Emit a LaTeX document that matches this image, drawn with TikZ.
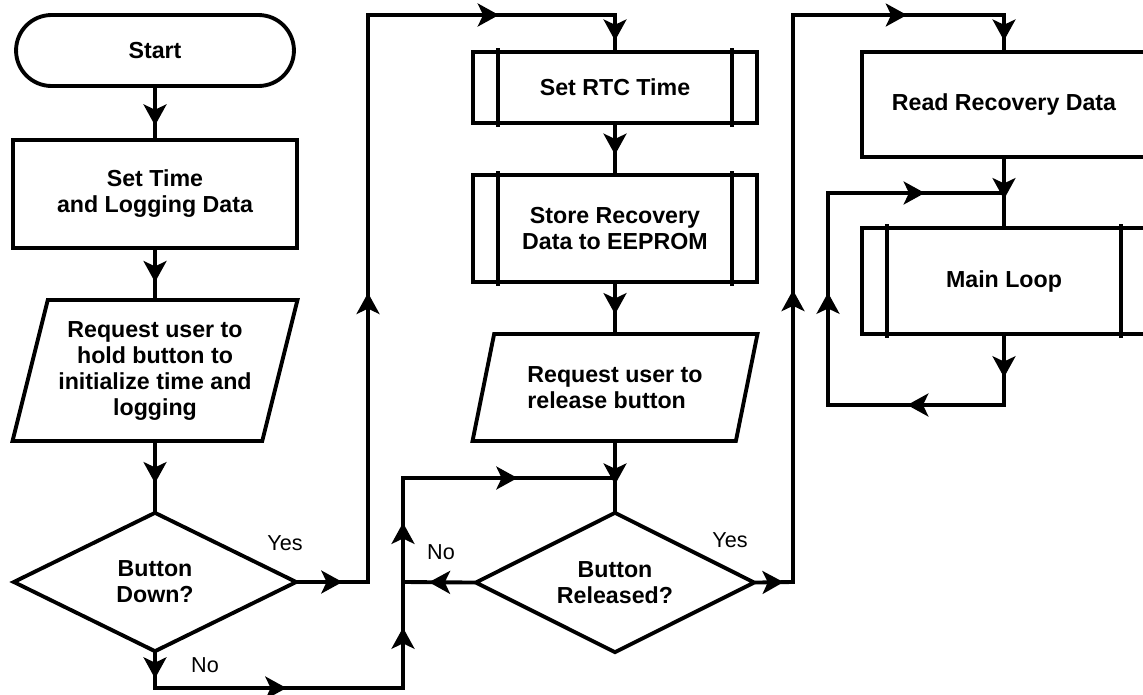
\documentclass[tikz,border=0pt]{standalone}
\usepackage{fontspec}
\setmainfont{Liberation Sans}
\usetikzlibrary{shapes.geometric,shapes.misc,decorations.markings,arrows.meta}

\begin{document}
\begin{tikzpicture}[x=0.02cm,y=-0.02cm,line width=2.2pt,line cap=rect,
    every node/.style={font=\fontsize{13.2}{14.8}\selectfont\bfseries,align=center,inner sep=2pt},
    term/.style={draw,rounded rectangle,minimum width=5.7cm,minimum height=1.42cm},
    box/.style={draw,rectangle,minimum width=5.68cm},
    subbox/.style={box,append after command={
        ([xshift=0.54cm]\tikzlastnode.north west) edge ([xshift=0.54cm]\tikzlastnode.south west)
        ([xshift=-0.54cm]\tikzlastnode.north east) edge ([xshift=-0.54cm]\tikzlastnode.south east)}},
    inout/.style={draw,trapezium,trapezium stretches body,minimum width=5.7cm},
    decision/.style={draw,diamond,aspect=2,minimum width=5.68cm,minimum height=2.8cm,inner sep=0pt},
    lbl/.style={font=\fontsize{12.3}{14}\selectfont},
    flow/.style={postaction={decorate},decoration={markings,
        mark=at position #1 with {\arrow{Stealth[length=12pt,width=13pt,inset=3pt]}}}},
    flow/.default=0.5]
    \useasboundingbox (0,0) rectangle (1143,694);
    \clip (0,0) rectangle (1143,694);

    % first column
    \node[term] (start) at (155,50.5) {Start};
    \node[box,minimum height=2.16cm] (settime) at (155,194) {Set Time\\and Logging Data};
    \node[inout,minimum height=2.82cm,trapezium left angle=71.6,trapezium right angle=108.4]
        (hold) at (155,370.5) {Request user to\\hold button to\\initialize time and\\logging};
    \node[decision] (down) at (155,582) {Button\\Down?};

    % second column
    \node[subbox,minimum height=1.42cm] (rtc) at (615,87.5) {Set RTC Time};
    \node[subbox,minimum height=2.14cm] (store) at (615,228.5) {Store Recovery\\Data to EEPROM};
    \node[inout,align=left,minimum height=2.14cm,trapezium left angle=66.3,trapezium right angle=113.7]
        (release) at (615,387.5) {Request user to\\release button};
    \node[decision,minimum width=5.6cm,minimum height=2.82cm] (released) at (615,582.5) {Button\\Released?};

    % third column
    \node[box,minimum height=2.1cm] (read) at (1004,104.5) {Read Recovery Data};
    \node[subbox,minimum height=2.12cm] (mainloop) at (1004,281) {Main Loop};

    % corners of the connectors
    \coordinate (y1a) at (368,582);
    \coordinate (y1b) at (368,15);
    \coordinate (y1c) at (615,15);
    \coordinate (n1a) at (155,688);
    \coordinate (n1b) at (403,688);
    \coordinate (n1j) at (403,582);
    \coordinate (n1c) at (403,478);
    \coordinate (n1d) at (615,478);
    \coordinate (y2a) at (793,582);
    \coordinate (y2b) at (793,15);
    \coordinate (y2c) at (1004,15);
    \coordinate (lpa) at (1004,405);
    \coordinate (lpb) at (828,405);
    \coordinate (lpc) at (828,193);
    \coordinate (lpd) at (1004,193);

    \draw[flow=0.75] (start) -- (settime);
    \draw[flow=0.67] (settime) -- (hold);
    \draw[flow=0.6] (hold) -- (down);
    \draw[flow=0.63] (down.east) -- (y1a);
    \draw[flow=0.51] (y1a) -- (y1b);
    \draw[flow=0.53] (y1b) -- (y1c);
    \draw[flow=0.73] (y1c) -- (rtc);
    \draw[flow=0.62] (rtc) -- (store);
    \draw[flow=0.63] (store) -- (release);
    \draw[flow=0.62] (release) -- (released);
    \draw[flow=0.72] (down.south) -- (n1a);
    \draw[flow=0.53] (n1a) -- (n1b);
    \draw[flow=0.57] (n1b) -- (n1j);
    \draw[flow=0.57] (n1j) -- (n1c);
    \draw[flow=0.54] (n1c) -- (n1d);
    \draw[flow=0.63] (released.west) -- (n1j);
    \draw[flow=0.74] (released.east) -- (y2a);
    \draw[flow=0.515] (y2a) -- (y2b);
    \draw[flow=0.54] (y2b) -- (y2c);
    \draw[flow=0.73] (y2c) -- (read);
    \draw[flow=0.6] (read) -- (mainloop);
    \draw[flow=0.6] (mainloop) -- (lpa);
    \draw[flow=0.55] (lpa) -- (lpb);
    \draw[flow=0.53] (lpb) -- (lpc);
    \draw[flow=0.55] (lpc) -- (lpd);

    \node[lbl] (yes1) at (285,543) {Yes};
    \node[lbl] (no1) at (205,665) {No};
    \node[lbl] (no2) at (441,552) {No};
    \node[lbl] (yes2) at (730,540) {Yes};
\end{tikzpicture}
\end{document}
